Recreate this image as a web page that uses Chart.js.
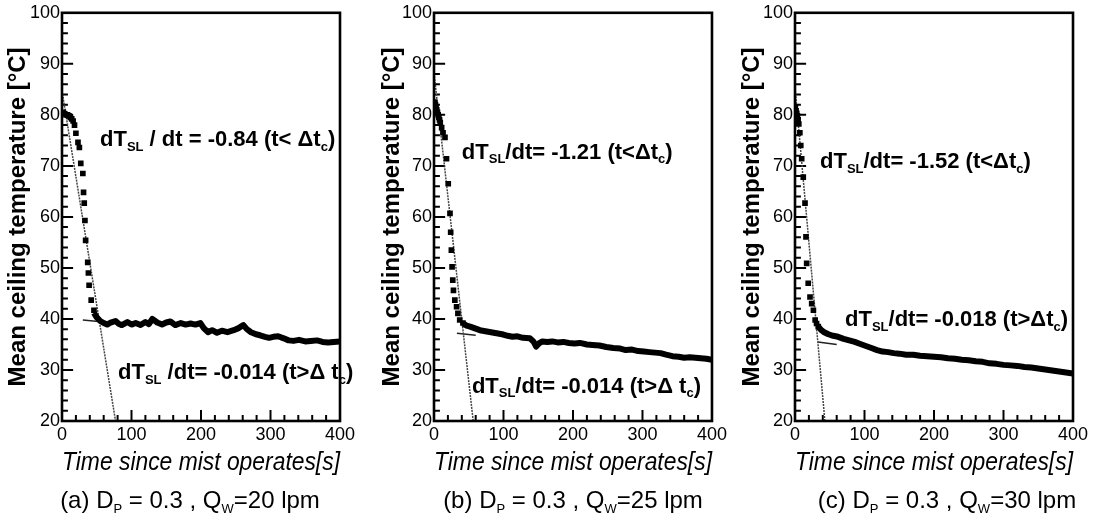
<!DOCTYPE html>
<html>
<head>
<meta charset="utf-8">
<script src="https://cdn.jsdelivr.net/npm/chart.js@4.4.1/dist/chart.umd.min.js"></script>
<style>
  body { margin: 0; background: #fff; width: 1097px; height: 523px; overflow: hidden; position: relative;
         font-family: 'Liberation Sans', Arial, sans-serif; }
  canvas { position: absolute; top: 0; }
  .cap { position: absolute; top: 486px; font-size: 24px; white-space: nowrap; transform: translateX(-50%); color: #000; }
  .cap sub { font-size: 13px; vertical-align: -5px; }
</style>
</head>
<body>
<canvas id="ca" width="362" height="523" style="left:0"></canvas>
<canvas id="cb" width="370" height="523" style="left:360px"></canvas>
<canvas id="cc" width="377" height="523" style="left:720px"></canvas>
<div class="cap" style="left:190px">(a) D<sub>P</sub> = 0.3 , Q<sub>W</sub>=20 lpm</div>
<div class="cap" style="left:573px">(b) D<sub>P</sub> = 0.3 , Q<sub>W</sub>=25 lpm</div>
<div class="cap" style="left:947px">(c) D<sub>P</sub> = 0.3 , Q<sub>W</sub>=30 lpm</div>
<script>
// (a) Qw = 20 lpm
const dropTimeA = [2, 4, 6, 8, 10, 12, 14, 16, 18, 20, 23, 25, 27, 30, 31, 32, 33, 34, 37, 38, 39, 42, 46]
const dropTempA = [80.5, 80.2, 80, 80, 79.8, 79.5, 79.2, 78.8, 78, 76.4, 74.6, 73.6, 70.5, 68.5, 64.8, 62.7, 59.3, 55.4, 51.1, 49, 46.6, 43.7, 41.7]
const bandTimeA = [46, 50, 55, 60, 65, 70, 77, 82, 86, 90, 94, 100, 106, 113, 120, 125, 130, 137, 144, 150, 156, 163, 171, 178, 185, 192, 199, 204, 210, 216, 223, 230, 238, 247, 254, 261, 266, 272, 279, 285, 292, 298, 304, 311, 319, 326, 333, 341, 350, 358, 367, 375, 383, 391, 400]
const bandTempA = [41.2, 40.3, 39.6, 39.2, 38.9, 39.3, 39.6, 39.0, 38.8, 39.1, 39.4, 38.9, 39.2, 38.8, 39.4, 39.0, 40.0, 39.3, 38.9, 39.3, 39.5, 38.8, 39.2, 38.9, 39.1, 38.9, 39.2, 38.2, 37.4, 37.8, 37.3, 37.7, 37.4, 37.8, 38.2, 38.8, 38.0, 37.4, 37.0, 36.8, 36.5, 36.3, 36.5, 36.6, 36.2, 35.8, 35.7, 35.9, 35.6, 35.7, 35.8, 35.5, 35.4, 35.5, 35.6]
const fitEarlyA = [[0, 84.7], [77, 20]]
const fitLateA = [[30, 39.8], [60, 39.4]]

// (b) Qw = 25 lpm
const dropTimeB = [1, 2, 3, 4, 5, 6, 7, 8, 9, 11, 13, 15.8, 18, 20.5, 23, 24, 25, 26, 27, 28, 30, 32.5, 34.4, 37, 41.6]
const dropTempB = [82.5, 82, 81.5, 81, 80.5, 80, 79.5, 79, 78.5, 77.5, 76.5, 75.6, 71.4, 66.5, 60.7, 57, 53.5, 50.2, 47.6, 45.6, 43.7, 42.4, 41.1, 39.8, 39.2]
const bandTimeB = [42, 47, 52, 58, 66, 74, 82, 90, 98, 106, 113, 120, 128, 138, 143, 147, 151, 156, 163, 170, 178, 186, 194, 202, 210, 220, 228, 238, 248, 258, 268, 276, 285, 294, 302, 310, 318, 326, 334, 343, 352, 360, 368, 376, 384, 392, 400]
const bandTempB = [39.1, 38.7, 38.5, 38.2, 37.8, 37.6, 37.4, 37.2, 37.0, 36.7, 36.5, 36.6, 36.3, 36.2, 35.6, 34.6, 35.2, 35.6, 35.5, 35.6, 35.4, 35.5, 35.3, 35.2, 35.3, 35.0, 34.9, 34.8, 34.5, 34.3, 34.2, 33.9, 34.0, 33.7, 33.6, 33.5, 33.4, 33.3, 33.0, 32.7, 32.6, 32.4, 32.5, 32.4, 32.3, 32.2, 32.0]
const fitEarlyB = [[0, 88.2], [56.4, 20]]
const fitLateB = [[33, 37.2], [60, 36.8]]

// (c) Qw = 30 lpm
const dropTimeC = [0.5, 1.5, 2.5, 3.5, 4.5, 5.5, 7, 8.3, 9.6, 11.9, 14.4, 15.8, 16.8, 19, 21.6, 24, 26.5, 29, 31, 33.5]
const dropTempC = [81.5, 80.8, 80.3, 79.8, 79, 78.2, 76.5, 74, 71.4, 67.8, 62.7, 56.1, 50.9, 47, 44.3, 43, 41.7, 39.8, 39.1, 38.5]
const bandTimeC = [33.5, 38, 42, 48, 55, 62, 70, 78, 86, 94, 102, 110, 118, 126, 134, 142, 150, 160, 170, 180, 190, 200, 210, 220, 230, 240, 250, 260, 270, 280, 290, 300, 310, 320, 330, 340, 350, 360, 370, 380, 390, 400]
const bandTempC = [38.5, 37.8, 37.4, 37.0, 36.7, 36.5, 36.1, 35.8, 35.5, 35.1, 34.7, 34.3, 33.9, 33.6, 33.5, 33.3, 33.2, 33.0, 33.0, 32.8, 32.7, 32.6, 32.5, 32.3, 32.2, 32.0, 31.9, 31.7, 31.6, 31.3, 31.2, 31.0, 30.9, 30.8, 30.6, 30.5, 30.3, 30.1, 29.9, 29.7, 29.5, 29.3]
const fitEarlyC = [[0, 85.4], [43, 20]]
const fitLateC = [[33, 35.5], [60, 35.0]]

// inward tick marks, same on every panel
const yMajorTicks = [30, 40, 50, 60, 70, 80, 90]
const yMinorTicks = [22, 24, 26, 28, 32, 34, 36, 38, 42, 44, 46, 48, 52, 54, 56, 58, 62, 64, 66, 68, 72, 74, 76, 78, 82, 84, 86, 88, 92, 94, 96, 98]
const xMajorTicks = [100, 200, 300]
const xMinorTicks = [20, 40, 60, 80, 120, 140, 160, 180, 220, 240, 260, 280, 320, 340, 360, 380]
// tick lengths in axis units (about 11 px major, 6 px minor)
const Y_TICK_MAJOR = 16, Y_TICK_MINOR = 8.5
const X_TICK_MAJOR = 2.15, X_TICK_MINOR = 1.2

const FONT = "'Liberation Sans', Arial, sans-serif"
const zip = (xs, ys) => xs.map((x, i) => ({ x, y: ys[i] }))
const pts = arr => arr.map(([x, y]) => ({ x, y }))

// comb line: out along each tick and back onto the axis line
const yComb = (vals, len) => vals.flatMap(v => [{ x: 0, y: v }, { x: len, y: v }, { x: 0, y: v }])
const xComb = (vals, len) => vals.flatMap(v => [{ x: v, y: 20 }, { x: v, y: 20 + len }, { x: v, y: 20 }])
const combSet = data => ({
  data, order: 2, showLine: true, tension: 0, borderColor: '#000', borderWidth: 2, pointRadius: 0
})

// box round the plot and the slope notes (text with _{sub} parts)
function drawDecor(chart, items) {
  const { ctx, chartArea: a } = chart
  const sx = chart.scales.x, sy = chart.scales.y
  ctx.save()
  ctx.setLineDash([])
  ctx.strokeStyle = '#000'
  ctx.lineWidth = 2.6
  ctx.strokeRect(a.left, a.top, a.right - a.left, a.bottom - a.top)
  ctx.fillStyle = '#000'
  ctx.textBaseline = 'middle'
  items.forEach(n => {
    let cx = sx.getPixelForValue(n.t)
    const cy = sy.getPixelForValue(n.T)
    n.text.split(/(_\{[^}]*\})/).forEach(s => {
      if (!s) return
      const sub = s.startsWith('_{')
      const str = sub ? s.slice(2, -1) : s
      ctx.font = `bold ${sub ? 13 : 22}px ${FONT}`
      ctx.fillText(str, cx, sub ? cy + 7 : cy)
      cx += ctx.measureText(str).width
    })
  })
  ctx.restore()
}

function makePanel(id, p) {
  const decor = { id: 'decor' + id, afterDraw: chart => drawDecor(chart, p.notes) }
  new Chart(document.getElementById(id), {
    type: 'scatter',
    data: {
      datasets: [
        { data: p.drop, order: 0, pointStyle: 'rect', pointRadius: 4, backgroundColor: '#000', borderWidth: 0 },
        { data: p.band, order: 0, showLine: true, borderColor: '#000', borderWidth: 6, borderJoinStyle: 'round', pointRadius: 0 },
        { data: pts(p.fitEarly), order: 1, showLine: true, borderColor: '#444', borderWidth: 1.5, borderDash: [2, 1], pointRadius: 0 },
        { data: pts(p.fitLate), order: 1, showLine: true, borderColor: '#222', borderWidth: 1.5, pointRadius: 0 },
        combSet(yComb(yMajorTicks, Y_TICK_MAJOR)),
        combSet(yComb(yMinorTicks, Y_TICK_MINOR)),
        combSet(xComb(xMajorTicks, X_TICK_MAJOR)),
        combSet(xComb(xMinorTicks, X_TICK_MINOR))
      ]
    },
    options: {
      responsive: false,
      animation: false,
      events: [],
      layout: { padding: { left: 0, right: p.padR, top: 12, bottom: 42 } },
      plugins: { legend: { display: false }, tooltip: { enabled: false } },
      scales: {
        x: {
          type: 'linear', min: 0, max: 400,
          afterFit: s => { s.height = 60 },
          grid: { display: false, drawTicks: false },
          border: { display: false },
          ticks: { stepSize: 100, padding: 3, color: '#000', font: { size: 18, family: FONT } },
          title: { display: true, text: 'Time since mist operates[s]', color: '#000',
                   font: { size: 26, style: 'italic', family: FONT }, padding: { top: 0, bottom: 3 } }
        },
        y: {
          type: 'linear', min: 20, max: 100,
          afterFit: s => { s.width = p.left },
          grid: { display: false, drawTicks: false },
          border: { display: false },
          ticks: { stepSize: 10, padding: 2, color: '#000', font: { size: 18, family: FONT } },
          title: { display: true, text: 'Mean ceiling temperature [°C]', color: '#000',
                   font: { size: 24, weight: 'bold', family: FONT }, padding: { top: p.titlePad, bottom: 0 } }
        }
      }
    },
    plugins: [decor]
  })
}

makePanel('ca', {
  left: 62, padR: 22, titlePad: 4,
  drop: zip(dropTimeA, dropTempA), band: zip(bandTimeA, bandTempA),
  fitEarly: fitEarlyA, fitLate: fitLateA,
  notes: [
    { t: 54.7, T: 75.0, text: 'dT_{SL} / dt = -0.84 (t< Δt_{c})' },
    { t: 80.6, T: 29.4, text: 'dT_{SL} /dt= -0.014 (t>Δ t_{c})' }
  ]
})
makePanel('cb', {
  left: 74, padR: 17, titlePad: 18,
  drop: zip(dropTimeB, dropTempB), band: zip(bandTimeB, bandTempB),
  fitEarly: fitEarlyB, fitLate: fitLateB,
  notes: [
    { t: 40.1, T: 72.6, text: 'dT_{SL}/dt= -1.21 (t<Δt_{c})' },
    { t: 54.5, T: 26.7, text: 'dT_{SL}/dt= -0.014 (t>Δ t_{c})' }
  ]
})
makePanel('cc', {
  left: 75, padR: 24, titlePad: 18,
  drop: zip(dropTimeC, dropTempC), band: zip(bandTimeC, bandTempC),
  fitEarly: fitEarlyC, fitLate: fitLateC,
  notes: [
    { t: 36, T: 70.7, text: 'dT_{SL}/dt= -1.52 (t<Δt_{c})' },
    { t: 72, T: 39.8, text: 'dT_{SL}/dt= -0.018 (t>Δt_{c})' }
  ]
})
</script>
</body>
</html>
